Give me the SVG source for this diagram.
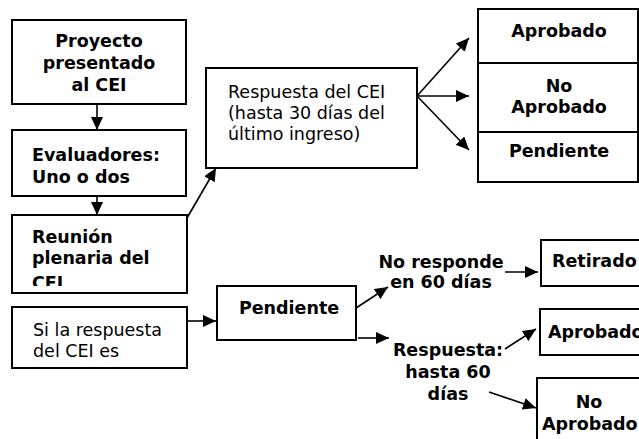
<svg xmlns="http://www.w3.org/2000/svg" width="639" height="439" viewBox="0 0 639 439">
<defs>
<style>
.box{fill:#fff;stroke:#000;stroke-width:2}
.t{font-family:"DejaVu Sans","Verdana",sans-serif;font-size:17.5px;fill:#000}
.b{font-weight:bold}
.c{text-anchor:middle}
.con line{stroke:#000;stroke-width:1.6;marker-end:url(#ah)}
</style>
<marker id="ah" viewBox="0 0 13 12" refX="13" refY="6" markerWidth="13" markerHeight="12" markerUnits="userSpaceOnUse" orient="auto">
<path d="M0,0 L13,6 L0,12 z" fill="#000"/>
</marker>
<clipPath id="clip3"><rect x="12" y="215" width="175" height="71"/></clipPath>
</defs>
<rect width="639" height="439" fill="#fff"/>

<g id="proyecto">
<rect class="box" x="12" y="20" width="174" height="84"/>
<text class="t b c" x="99" y="47">Proyecto</text>
<text class="t b c" x="99" y="69">presentado</text>
<text class="t b c" x="99" y="91">al CEI</text>
</g>

<g id="evaluadores">
<rect class="box" x="12" y="130" width="174" height="66"/>
<text class="t b" x="32" y="161">Evaluadores:</text>
<text class="t b" x="32" y="183">Uno o dos</text>
</g>

<g id="reunion">
<rect class="box" x="12" y="215" width="175" height="78"/>
<g clip-path="url(#clip3)">
<text class="t b" x="32" y="243">Reunión</text>
<text class="t b" x="32" y="264">plenaria del</text>
<text class="t b" x="32" y="289">CEI</text>
</g>
</g>

<g id="respuesta">
<rect class="box" x="206" y="68" width="211" height="100"/>
<text class="t" x="228" y="98">Respuesta del CEI</text>
<text class="t" x="228" y="119">(hasta 30 días del</text>
<text class="t" x="228" y="140">último ingreso)</text>
</g>

<g id="resultados">
<rect class="box" x="478" y="9" width="160" height="173"/>
<line x1="478" y1="63" x2="638" y2="63" stroke="#000" stroke-width="2"/>
<line x1="478" y1="132" x2="638" y2="132" stroke="#000" stroke-width="2"/>
<text class="t b c" x="559" y="37">Aprobado</text>
<text class="t b c" x="559" y="92">No</text>
<text class="t b c" x="559" y="113">Aprobado</text>
<text class="t b c" x="559" y="157">Pendiente</text>
</g>

<g id="si-respuesta">
<rect class="box" x="12" y="307" width="175" height="61"/>
<text class="t" x="33" y="336">Si la respuesta</text>
<text class="t" x="33" y="357">del CEI es</text>
</g>

<g id="pendiente">
<rect class="box" x="217" y="286" width="139" height="54"/>
<text class="t b c" x="289" y="314">Pendiente</text>
</g>

<g id="no-responde">
<text class="t b c" x="441" y="268">No responde</text>
<text class="t b c" x="441" y="288">en 60 días</text>
</g>

<g id="respuesta-60">
<text class="t b c" x="448" y="356">Respuesta:</text>
<text class="t b c" x="448" y="378">hasta 60</text>
<text class="t b c" x="448" y="400">días</text>
</g>

<g id="retirado">
<rect class="box" x="541" y="240" width="110" height="46"/>
<text class="t b" x="552" y="267">Retirado</text>
</g>

<g id="aprobado2">
<rect class="box" x="540" y="309" width="110" height="46"/>
<text class="t b" x="548" y="338">Aprobado</text>
</g>

<g id="no-aprobado2">
<rect class="box" x="537" y="378" width="120" height="70"/>
<text class="t b c" x="589" y="408">No</text>
<text class="t b" x="542" y="430">Aprobado</text>
</g>

<g class="con" id="connectors">
<line x1="97" y1="104" x2="97" y2="130"/>
<line x1="97" y1="196" x2="97" y2="215"/>
<line x1="187" y1="218" x2="216" y2="168"/>
<line x1="417" y1="96" x2="469" y2="38"/>
<line x1="417" y1="96" x2="469" y2="96"/>
<line x1="417" y1="96" x2="469" y2="150"/>
<line x1="187" y1="321" x2="216" y2="321"/>
<line x1="356" y1="308" x2="388" y2="287"/>
<line x1="358" y1="338" x2="389" y2="338"/>
<line x1="505" y1="272" x2="538" y2="272"/>
<line x1="505" y1="349" x2="536" y2="329"/>
<line x1="489" y1="392" x2="536" y2="408"/>
</g>
</svg>
